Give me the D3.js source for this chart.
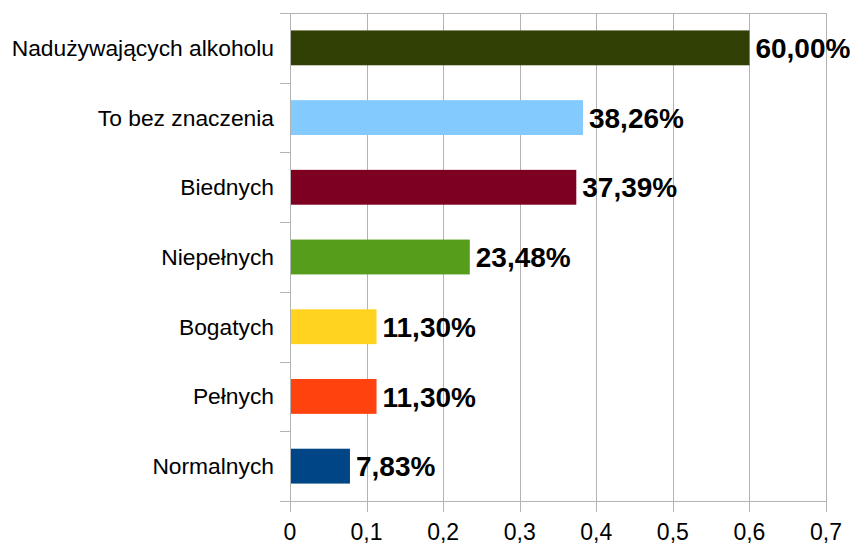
<!DOCTYPE html>
<html>
<head>
<meta charset="utf-8">
<script src="https://cdn.jsdelivr.net/npm/d3@7"></script>
<style>
  html, body { margin: 0; padding: 0; background: #fff; }
  svg { display: block; }
</style>
</head>
<body>
<svg id="chart" width="852" height="544"></svg>
<script>
const categories = ["Nadużywających alkoholu", "To bez znaczenia", "Biednych", "Niepełnych", "Bogatych", "Pełnych", "Normalnych"];
const values = [0.6, 0.3826, 0.3739, 0.2348, 0.113, 0.113, 0.0783];
const valueLabels = ["60,00%", "38,26%", "37,39%", "23,48%", "11,30%", "11,30%", "7,83%"];
const colors = ["#314004", "#83caff", "#7e0021", "#579d1c", "#ffd320", "#ff420e", "#004586"];
const xTicks = [0, 0.1, 0.2, 0.3, 0.4, 0.5, 0.6, 0.7];
const xTickLabels = ["0", "0,1", "0,2", "0,3", "0,4", "0,5", "0,6", "0,7"];

(function () {
const svg = d3.select("#chart");
const mLeft = 290, mRight = 826, mTop = 13, mBottom = 501;
const grid = "#b3b3b3";

const x = d3.scaleLinear().domain([0, 0.7]).range([mLeft, mRight]);
const y = d3.scaleBand().domain(categories).range([mTop, mBottom]).paddingInner(0.5).paddingOuter(0.25);

// vertical gridlines (extend below as tick marks)
svg.append("g").selectAll("line").data(xTicks).join("line")
  .attr("x1", d => Math.round(x(d)) + 0.5).attr("x2", d => Math.round(x(d)) + 0.5)
  .attr("y1", mTop).attr("y2", mBottom + 11)
  .attr("stroke", grid).attr("stroke-width", 1);

// horizontal category boundaries: top and bottom frame plus left tick marks
const bounds = categories.map((c, i) => mTop + i * (mBottom - mTop) / categories.length).concat([mBottom]);
svg.append("g").selectAll("line").data(bounds).join("line")
  .attr("x1", mLeft - 10)
  .attr("x2", (d, i) => (i === 0 || i === bounds.length - 1) ? mRight : mLeft)
  .attr("y1", d => Math.round(d) + 0.5).attr("y2", d => Math.round(d) + 0.5)
  .attr("stroke", grid).attr("stroke-width", 1);

// bars
svg.append("g").selectAll("rect").data(categories).join("rect")
  .attr("x", x(0) + 1)
  .attr("y", d => y(d))
  .attr("width", (d, i) => x(values[i]) - x(0) - 1)
  .attr("height", y.bandwidth())
  .attr("fill", (d, i) => colors[i]);

// value labels
svg.append("g").selectAll("text").data(categories).join("text")
  .attr("x", (d, i) => x(values[i]) + 6)
  .attr("y", d => y(d) + y.bandwidth() / 2)
  .attr("dy", "0.36em")
  .attr("font-family", "Liberation Sans, Arial, sans-serif")
  .attr("font-weight", "bold")
  .attr("font-size", "28px")
  .attr("fill", "#000")
  .text((d, i) => valueLabels[i]);

// category labels
svg.append("g").selectAll("text").data(categories).join("text")
  .attr("x", mLeft - 16)
  .attr("y", d => y(d) + y.bandwidth() / 2)
  .attr("dy", "0.35em")
  .attr("text-anchor", "end")
  .attr("font-family", "Liberation Sans, Arial, sans-serif")
  .attr("font-size", "22.8px")
  .attr("fill", "#000")
  .text(d => d);

// x tick labels
svg.append("g").selectAll("text").data(xTicks).join("text")
  .attr("x", d => x(d))
  .attr("y", 540)
  .attr("text-anchor", "middle")
  .attr("font-family", "Liberation Sans, Arial, sans-serif")
  .attr("font-size", "23px")
  .attr("fill", "#000")
  .text((d, i) => xTickLabels[i]);
})();
</script>
</body>
</html>
